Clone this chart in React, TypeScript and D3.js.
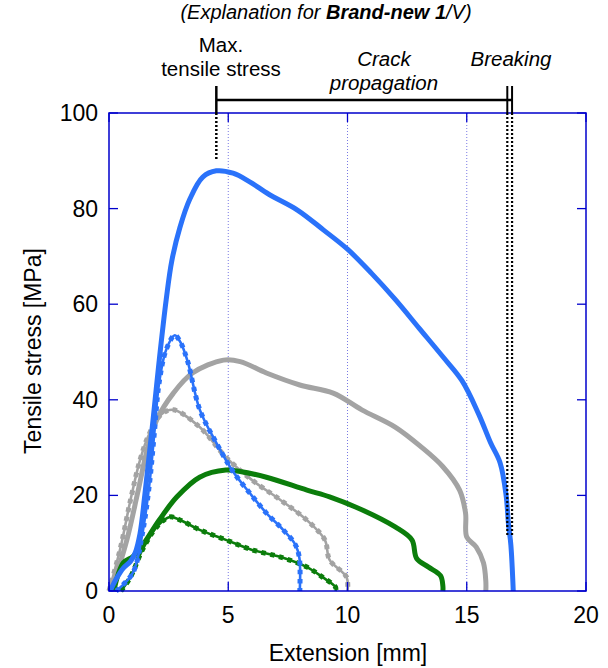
import * as d3 from "d3";

// tick values
const xTicks = [0, 5, 10, 15, 20];
const yTicks = [0, 20, 40, 60, 80, 100];
const gridX = [5, 10, 15];

// curves: [extension mm, stress MPa]
const blueSolid: [number, number][] = [
  [0.05, 0], [0.3, 2.5], [0.6, 4.8], [0.9, 6.2], [1.1, 8], [1.3, 12], [1.5, 20], [1.85, 36], [2.1, 48], [2.4, 61],
  [2.63, 69], [2.97, 76], [3.39, 82], [3.93, 86.6], [4.5, 87.9], [5.2, 87.4], [5.9, 85.6],
  [6.7, 83], [7.9, 79.7], [9.0, 75.5], [10.0, 71.5], [11.0, 66.5], [12.0, 61], [13.0, 55],
  [14.0, 49], [14.8, 44], [15.5, 37], [16.0, 31], [16.4, 26.8], [16.65, 20], [16.75, 14], [16.85, 9.6],
  [16.95, 0],
];
const blueDash: [number, number][] = [
  [0.3, 0], [1.0, 3.8], [1.4, 12], [1.7, 22.6], [1.9, 33], [2.1, 43.5], [2.4, 50.5], [2.76, 53.5],
  [3.0, 52], [3.3, 48], [3.8, 38], [4.5, 31], [5.2, 25], [5.9, 20.5], [6.6, 16.3], [7.3, 12.8],
  [7.8, 9.8], [7.98, 7], [8.0, 0],
];
const graySolid: [number, number][] = [
  [0.1, 0], [0.75, 10.7], [1.2, 20.5], [1.6, 29.5], [2.0, 35.8], [2.7, 41.4], [3.5, 45.6],
  [4.8, 48.3], [5.5, 48], [6.6, 45.6], [8.0, 43.1], [9.4, 41.4], [10.6, 37.9], [12.0, 34.3],
  [13.1, 30.1], [14.0, 26], [14.7, 21.1], [14.95, 16.3], [15.0, 11.3], [15.4, 9.2], [15.7, 5.9],
  [15.8, 2], [15.8, 0],
];
const grayDash: [number, number][] = [
  [0.0, 0], [0.46, 8.6], [0.9, 19], [1.3, 27.4], [1.7, 33], [2.2, 37], [2.7, 37.9], [3.8, 34.3],
  [4.9, 28], [6.0, 23.2], [7.2, 19], [8.3, 14.8], [9.05, 10.7], [9.25, 6.5], [9.96, 2.9], [10.0, 0],
];
const greenSolid: [number, number][] = [
  [0.2, 0], [0.6, 5.9], [1.0, 7.2], [1.4, 9.5], [2.1, 14.8], [2.85, 19.7], [3.8, 23.8], [4.9, 25.3],
  [5.5, 25], [6.6, 23.8], [8.3, 21.1], [9.25, 19.7], [10.6, 17], [12.0, 13.4], [12.7, 10.7],
  [12.9, 6.8], [13.4, 5.0], [13.9, 3.2], [14.0, 1], [14.0, 0],
];
const greenDash: [number, number][] = [
  [0.5, 0], [0.9, 2.9], [1.4, 8.6], [2.0, 13.4], [2.55, 15.5], [3.0, 14.8], [3.8, 12.8],
  [4.9, 10.7], [6.0, 8.6], [7.2, 7.1], [8.3, 5.0], [8.95, 2.9], [9.5, 0.8], [9.5, 0],
];

const BLUE = "#2a72fa";
const GRAY = "#a3a3a3";
const GREEN = "#0b7d0b";
const AXIS = "#0000cc";

export default function App() {
  const W = 608, H = 668;
  const left = 109, right = 586, top = 113, bottom = 591;
  const x = d3.scaleLinear().domain([0, 20]).range([left, right]);
  const y = d3.scaleLinear().domain([0, 100]).range([bottom, top]);
  const line = d3.line<[number, number]>().x(d => x(d[0])).y(d => y(d[1])).curve(d3.curveCatmullRom.alpha(0.5));
  const font = "Liberation Sans, Arial, sans-serif";

  // solid = thick line; marked = thin line with square markers
  const curves = [
    { d: graySolid, c: GRAY, marked: false },
    { d: grayDash, c: GRAY, marked: true },
    { d: greenDash, c: GREEN, marked: true },
    { d: greenSolid, c: GREEN, marked: false },
    { d: blueDash, c: BLUE, marked: true },
    { d: blueSolid, c: BLUE, marked: false },
  ];

  const maxX = x(4.5);
  const brk1 = x(16.7), brk2 = x(16.9);

  return (
    <svg width={W} height={H} style={{ display: "block", position: "absolute", left: 0, top: 0 }} fontFamily={font}>
      <rect width={W} height={H} fill="#fff" />
      {/* grid */}
      {gridX.map(t => (
        <line key={"g" + t} x1={x(t)} x2={x(t)} y1={top} y2={bottom} stroke="#5555dd" strokeWidth={0.8} strokeDasharray="1,2" />
      ))}
      {/* curves */}
      {curves.map((c, i) =>
        c.marked ? (
          <g key={i}>
            <path d={line(c.d) || ""} fill="none" stroke={c.c} strokeWidth={2.6} strokeLinejoin="round" />
            <path d={line(c.d) || ""} fill="none" stroke={c.c} strokeWidth={5} strokeDasharray="4.5,4.5" />
          </g>
        ) : (
          <path key={i} d={line(c.d) || ""} fill="none" stroke={c.c} strokeWidth={5} strokeLinejoin="round" />
        )
      )}
      {/* axes frame */}
      <rect x={left} y={top} width={right - left} height={bottom - top} fill="none" stroke={AXIS} strokeWidth={1.5} />
      {xTicks.map(t => (
        <g key={"x" + t}>
          <line x1={x(t)} x2={x(t)} y1={bottom} y2={bottom - 9} stroke={AXIS} strokeWidth={1.3} />
          <line x1={x(t)} x2={x(t)} y1={top} y2={top + 9} stroke={AXIS} strokeWidth={1.3} />
          <text x={x(t)} y={bottom + 32} textAnchor="middle" fontSize={23}>{t}</text>
        </g>
      ))}
      {yTicks.map(t => (
        <g key={"y" + t}>
          <line x1={left} x2={left + 9} y1={y(t)} y2={y(t)} stroke={AXIS} strokeWidth={1.3} />
          <line x1={right} x2={right - 9} y1={y(t)} y2={y(t)} stroke={AXIS} strokeWidth={1.3} />
          <text x={left - 11} y={y(t) + 8} textAnchor="end" fontSize={23}>{t}</text>
        </g>
      ))}
      <text x={348} y={661} textAnchor="middle" fontSize={23}>Extension [mm]</text>
      <text transform={`translate(41,${351}) rotate(-90)`} textAnchor="middle" fontSize={23}>Tensile stress [MPa]</text>

      {/* annotation */}
      <line x1={maxX} x2={maxX} y1={86} y2={top} stroke="#000" strokeWidth={2.5} />
      <line x1={maxX} x2={maxX} y1={top} y2={161} stroke="#000" strokeWidth={2.5} strokeDasharray="2,2" />
      <line x1={maxX} x2={brk2} y1={100} y2={100} stroke="#000" strokeWidth={2.5} />
      <line x1={brk1} x2={brk1} y1={86} y2={top} stroke="#000" strokeWidth={2} />
      <line x1={brk2} x2={brk2} y1={86} y2={top} stroke="#000" strokeWidth={2} />
      <line x1={brk1} x2={brk1} y1={top} y2={535} stroke="#000" strokeWidth={2.2} strokeDasharray="2,2" />
      <line x1={brk2} x2={brk2} y1={top} y2={535} stroke="#000" strokeWidth={2.2} strokeDasharray="2,2" />

      <text x={326} y={19} textAnchor="middle" fontSize={20} fontStyle="italic">
        (Explanation for <tspan fontWeight="bold">Brand-new 1</tspan>/V)
      </text>
      <text x={221} y={52} textAnchor="middle" fontSize={20.5}>Max.</text>
      <text x={221} y={76} textAnchor="middle" fontSize={20.5}>tensile stress</text>
      <text x={384} y={66} textAnchor="middle" fontSize={20.5} fontStyle="italic">Crack</text>
      <text x={384} y={90} textAnchor="middle" fontSize={20.5} fontStyle="italic">propagation</text>
      <text x={511} y={66} textAnchor="middle" fontSize={20.5} fontStyle="italic">Breaking</text>
    </svg>
  );
}
